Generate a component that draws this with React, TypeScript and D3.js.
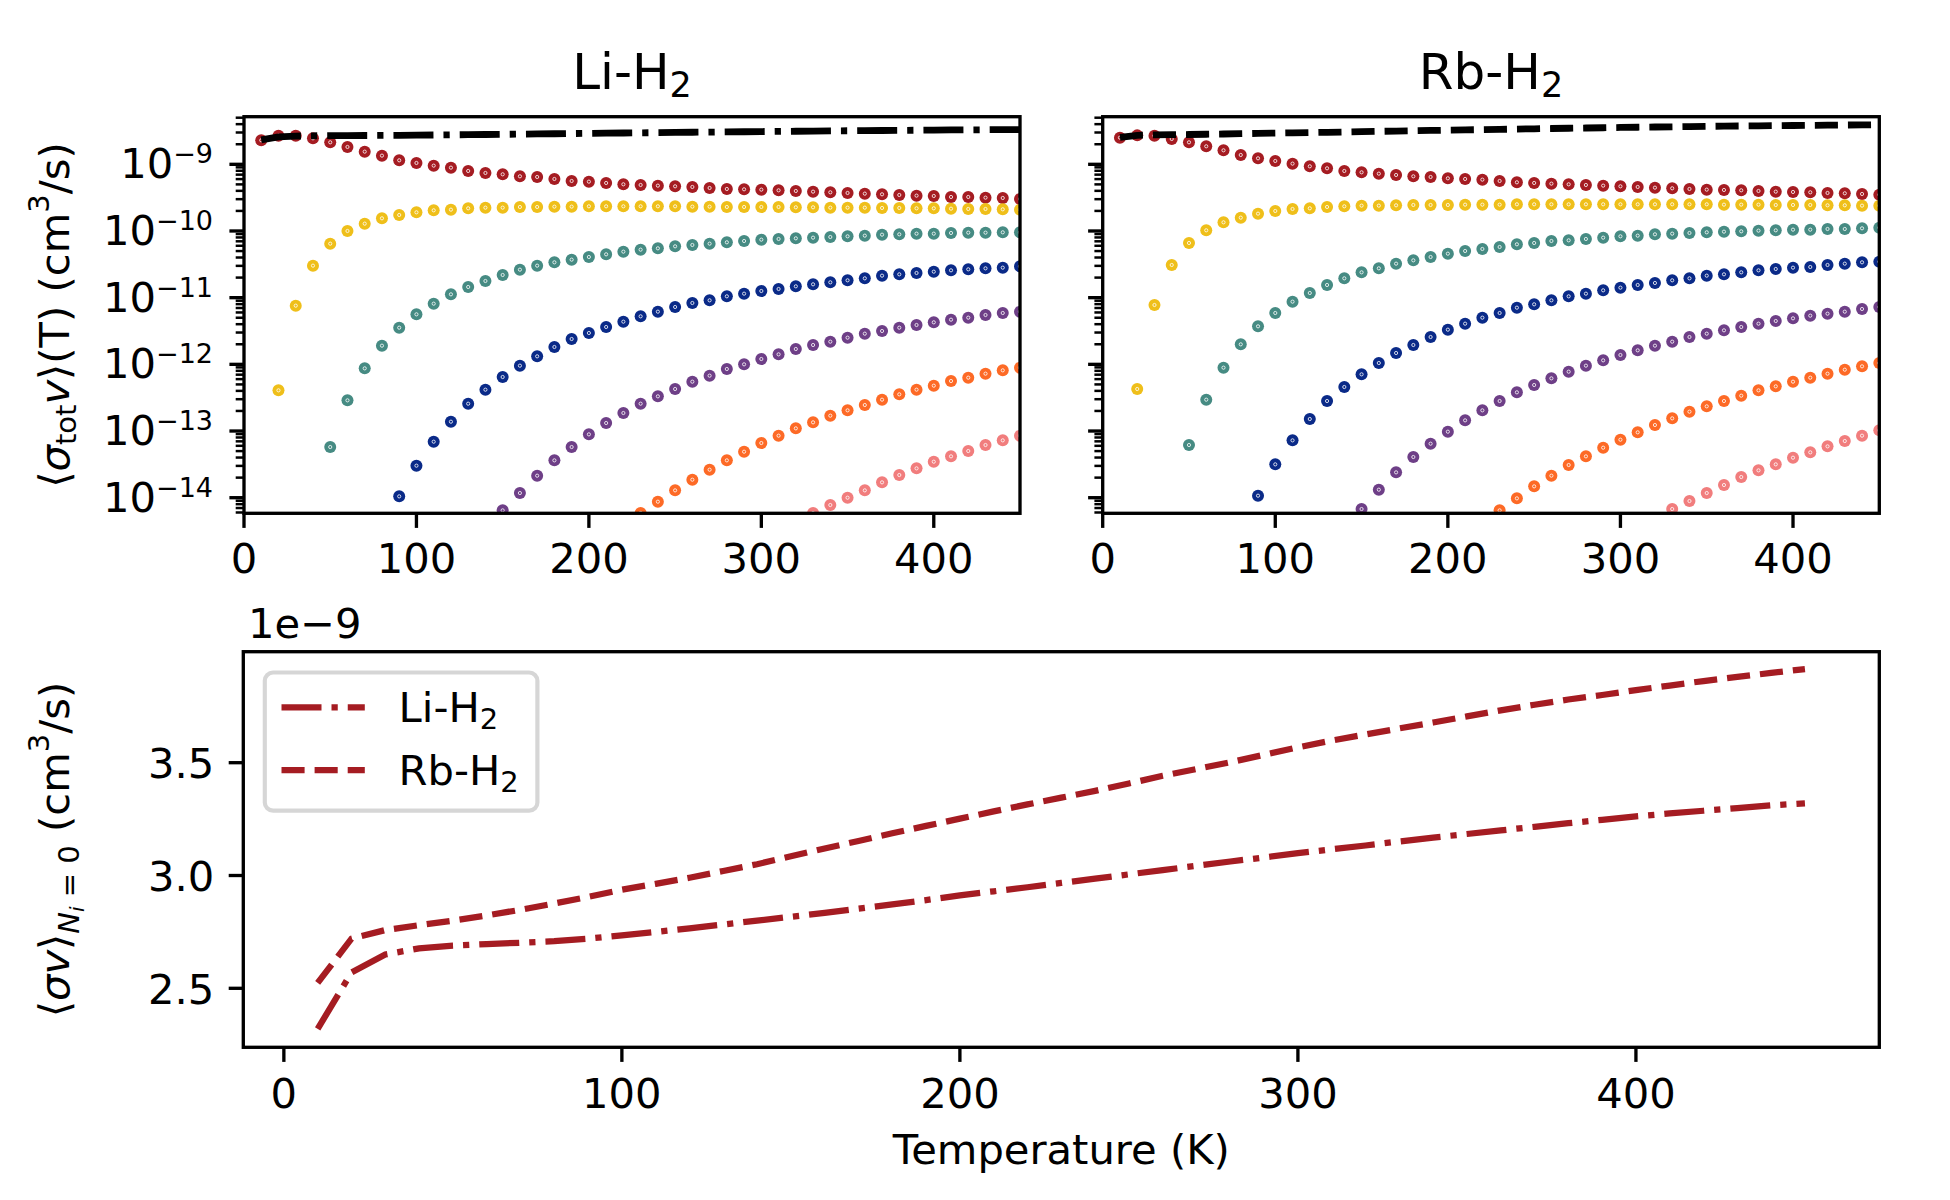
import * as d3 from "d3";

// sample temperatures (K)
const temperatures = [
  10, 20, 30, 40, 50, 60, 70, 80, 90, 100, 110, 120, 130, 140, 150, 160, 170, 180, 190, 200, 210, 220, 230,
  240, 250, 260, 270, 280, 290, 300, 310, 320, 330, 340, 350, 360, 370, 380, 390, 400, 410, 420, 430, 440, 450,
];

// log10 of <sigma v> per channel (null = below the axis)
const liCh0 = [-8.64, -8.57, -8.57, -8.61, -8.67, -8.74, -8.81, -8.87, -8.94, -8.98, -9.02, -9.05, -9.1, -9.13, -9.15, -9.18, -9.19, -9.22, -9.25, -9.26, -9.28, -9.3, -9.31, -9.32, -9.33, -9.34, -9.355, -9.37, -9.375, -9.38, -9.39, -9.4, -9.41, -9.42, -9.43, -9.44, -9.45, -9.46, -9.47, -9.475, -9.49, -9.49, -9.5, -9.505, -9.52];
const liCh1 = [null, -12.39, -11.12, -10.52, -10.19, -10.0, -9.89, -9.81, -9.76, -9.72, -9.69, -9.68, -9.66, -9.65, -9.65, -9.64, -9.64, -9.635, -9.635, -9.63, -9.63, -9.63, -9.63, -9.63, -9.63, -9.635, -9.635, -9.64, -9.64, -9.64, -9.64, -9.645, -9.645, -9.65, -9.65, -9.65, -9.655, -9.655, -9.66, -9.66, -9.665, -9.67, -9.67, -9.675, -9.68];
const liCh2 = [null, null, null, null, -13.24, -12.54, -12.06, -11.72, -11.45, -11.25, -11.09, -10.95, -10.84, -10.75, -10.66, -10.58, -10.52, -10.47, -10.43, -10.39, -10.35, -10.31, -10.28, -10.26, -10.23, -10.21, -10.19, -10.17, -10.15, -10.13, -10.12, -10.11, -10.1, -10.09, -10.08, -10.07, -10.055, -10.05, -10.04, -10.04, -10.03, -10.025, -10.025, -10.02, -10.02];
const liCh3 = [null, null, null, null, null, null, null, null, -13.98, -13.52, -13.16, -12.86, -12.59, -12.38, -12.19, -12.02, -11.88, -11.74, -11.62, -11.53, -11.44, -11.36, -11.28, -11.21, -11.14, -11.08, -11.04, -10.98, -10.94, -10.9, -10.87, -10.83, -10.8, -10.77, -10.74, -10.71, -10.67, -10.65, -10.63, -10.61, -10.59, -10.575, -10.56, -10.55, -10.53];
const liCh4 = [null, null, null, null, null, null, null, null, null, null, null, null, null, null, -14.19, -13.93, -13.67, -13.44, -13.24, -13.05, -12.88, -12.73, -12.59, -12.48, -12.37, -12.26, -12.17, -12.07, -12.0, -11.92, -11.85, -11.77, -11.71, -11.66, -11.6, -11.54, -11.5, -11.45, -11.41, -11.37, -11.33, -11.3, -11.26, -11.23, -11.21];
const liCh5 = [null, null, null, null, null, null, null, null, null, null, null, null, null, null, null, null, null, null, null, null, null, null, -14.23, -14.06, -13.89, -13.73, -13.58, -13.44, -13.31, -13.18, -13.07, -12.96, -12.87, -12.77, -12.69, -12.61, -12.53, -12.45, -12.38, -12.32, -12.25, -12.2, -12.14, -12.09, -12.05];
const liCh6 = [null, null, null, null, null, null, null, null, null, null, null, null, null, null, null, null, null, null, null, null, null, null, null, null, null, null, null, null, null, null, null, null, -14.23, -14.11, -14.0, -13.89, -13.77, -13.66, -13.56, -13.46, -13.38, -13.3, -13.21, -13.14, -13.07];

const rbCh0 = [-8.6, -8.566, -8.57, -8.62, -8.67, -8.73, -8.79, -8.86, -8.91, -8.95, -8.99, -9.03, -9.06, -9.1, -9.12, -9.14, -9.16, -9.18, -9.19, -9.21, -9.22, -9.23, -9.25, -9.27, -9.28, -9.29, -9.3, -9.31, -9.32, -9.33, -9.34, -9.35, -9.36, -9.37, -9.38, -9.385, -9.39, -9.4, -9.41, -9.415, -9.42, -9.43, -9.435, -9.445, -9.455];
const rbCh1 = [null, -12.37, -11.11, -10.51, -10.18, -9.99, -9.87, -9.8, -9.74, -9.7, -9.67, -9.66, -9.64, -9.63, -9.62, -9.62, -9.615, -9.61, -9.61, -9.61, -9.605, -9.605, -9.605, -9.6, -9.6, -9.6, -9.6, -9.6, -9.6, -9.6, -9.6, -9.6, -9.6, -9.6, -9.6, -9.605, -9.605, -9.605, -9.61, -9.61, -9.61, -9.615, -9.615, -9.62, -9.62];
const rbCh2 = [null, null, null, null, -13.21, -12.53, -12.05, -11.7, -11.43, -11.23, -11.06, -10.93, -10.81, -10.71, -10.62, -10.56, -10.49, -10.44, -10.39, -10.34, -10.3, -10.27, -10.24, -10.2, -10.18, -10.15, -10.14, -10.12, -10.1, -10.08, -10.07, -10.05, -10.04, -10.03, -10.02, -10.01, -10.005, -9.995, -9.99, -9.98, -9.98, -9.97, -9.97, -9.96, -9.95];
const rbCh3 = [null, null, null, null, null, null, null, null, -13.97, -13.5, -13.14, -12.82, -12.55, -12.34, -12.15, -11.98, -11.83, -11.71, -11.59, -11.48, -11.39, -11.3, -11.23, -11.15, -11.1, -11.04, -10.98, -10.94, -10.89, -10.85, -10.81, -10.78, -10.74, -10.71, -10.67, -10.65, -10.62, -10.59, -10.57, -10.55, -10.54, -10.51, -10.49, -10.47, -10.46];
const rbCh4 = [null, null, null, null, null, null, null, null, null, null, null, null, null, null, -14.17, -13.88, -13.62, -13.39, -13.19, -13.01, -12.84, -12.69, -12.55, -12.42, -12.31, -12.21, -12.11, -12.02, -11.94, -11.86, -11.79, -11.72, -11.66, -11.59, -11.54, -11.49, -11.44, -11.39, -11.35, -11.31, -11.27, -11.24, -11.21, -11.17, -11.14];
const rbCh5 = [null, null, null, null, null, null, null, null, null, null, null, null, null, null, null, null, null, null, null, null, null, null, -14.19, -14.01, -13.83, -13.67, -13.51, -13.38, -13.25, -13.13, -13.02, -12.91, -12.81, -12.71, -12.63, -12.55, -12.47, -12.39, -12.33, -12.26, -12.2, -12.14, -12.08, -12.03, -11.98];
const rbCh6 = [null, null, null, null, null, null, null, null, null, null, null, null, null, null, null, null, null, null, null, null, null, null, null, null, null, null, null, null, null, null, null, null, -14.17, -14.05, -13.93, -13.81, -13.69, -13.59, -13.5, -13.4, -13.32, -13.23, -13.15, -13.07, -12.99];

// total rate for N_i = 0, in units of 1e-9 cm^3/s
const liTotal = [2.32, 2.57, 2.65, 2.677, 2.689, 2.696, 2.702, 2.709, 2.72, 2.735, 2.75, 2.766, 2.783, 2.8, 2.817, 2.834, 2.853, 2.872, 2.891, 2.912, 2.93, 2.948, 2.967, 2.986, 3.005, 3.024, 3.043, 3.062, 3.08, 3.099, 3.116, 3.133, 3.151, 3.168, 3.184, 3.2, 3.216, 3.232, 3.247, 3.262, 3.275, 3.287, 3.299, 3.311, 3.32];
const rbTotal = [2.524, 2.72, 2.758, 2.78, 2.8, 2.823, 2.848, 2.876, 2.905, 2.937, 2.963, 2.99, 3.02, 3.05, 3.085, 3.12, 3.153, 3.187, 3.22, 3.252, 3.284, 3.315, 3.345, 3.375, 3.408, 3.442, 3.472, 3.502, 3.535, 3.568, 3.598, 3.625, 3.652, 3.678, 3.705, 3.732, 3.757, 3.78, 3.8, 3.822, 3.842, 3.862, 3.88, 3.898, 3.915];

const channelColors = ["#a51c22", "#efbf1a", "#468b83", "#0a2a88", "#6e3f87", "#fd6a26", "#f17d7d"];
const liChannels = [liCh0, liCh1, liCh2, liCh3, liCh4, liCh5, liCh6];
const rbChannels = [rbCh0, rbCh1, rbCh2, rbCh3, rbCh4, rbCh5, rbCh6];

const xTicks = [0, 100, 200, 300, 400];
const logMajor = [-14, -13, -12, -11, -10, -9];
const bottomYTicks = [2.5, 3.0, 3.5];

const FONT = "'DejaVu Sans', sans-serif";
const FS = 41.67;
const LW = 6.25;
const SPINE = 3.33;
const DASHED = "23.1 10";
const DASHDOT = "40 10 6.25 10";
const LINE_RED = "#a51c22";

type PanelProps = {
  id: string;
  left: number;
  right: number;
  name: string;
  channels: (number | null)[][];
  total: number[];
  dash: string;
  showLabels: boolean;
};

function LogPanel({ id, left, right, name, channels, total, dash, showLabels }: PanelProps) {
  const top = 116.7;
  const bottom = 513.3;
  const x = d3.scaleLinear().domain([0, 450]).range([left, right]);
  const y = d3.scaleLog().domain([10 ** -14.234, 10 ** -8.286]).range([bottom, top]);
  const [lo, hi] = y.domain();
  const minors: number[] = [];
  for (let e = -15; e <= -9; e++) {
    for (let k = 2; k <= 9; k++) {
      const v = k * 10 ** e;
      if (v >= lo && v <= hi) minors.push(v);
    }
  }
  const line = d3
    .line<number>()
    .x((_, i) => x(temperatures[i]))
    .y((d) => y(d * 1e-9));

  return (
    <g>
      <defs>
        <clipPath id={id}>
          <rect x={left} y={top} width={right - left} height={bottom - top} />
        </clipPath>
      </defs>
      <g clipPath={`url(#${id})`}>
        {channels.map((vals, si) =>
          vals.map((v, i) =>
            v === null ? null : (
              <g key={`${si}-${i}`}>
                <circle cx={x(temperatures[i])} cy={y(10 ** v)} r={6} fill={channelColors[si]} />
                <circle cx={x(temperatures[i])} cy={y(10 ** v)} r={1.6} fill="none" stroke="#fff" strokeWidth={0.8} />
              </g>
            )
          )
        )}
        <path d={line(total) ?? ""} fill="none" stroke="#000" strokeWidth={6.8} strokeDasharray={dash} />
      </g>
      <rect x={left} y={top} width={right - left} height={bottom - top} fill="none" stroke="#000" strokeWidth={SPINE} />
      {xTicks.map((t) => (
        <g key={t}>
          <line x1={x(t)} x2={x(t)} y1={bottom} y2={bottom + 14.6} stroke="#000" strokeWidth={SPINE} />
          <text x={x(t)} y={bottom + 60} textAnchor="middle" fontSize={FS}>
            {t}
          </text>
        </g>
      ))}
      {minors.map((v) => (
        <line key={v} x1={left - 8.3} x2={left} y1={y(v)} y2={y(v)} stroke="#000" strokeWidth={2.5} />
      ))}
      {logMajor.map((e) => (
        <g key={e}>
          <line x1={left - 14.6} x2={left} y1={y(10 ** e)} y2={y(10 ** e)} stroke="#000" strokeWidth={SPINE} />
          {showLabels && (
            <text x={left - 31} y={y(10 ** e) + 14} textAnchor="end" fontSize={FS}>
              10
              <tspan dy={-15} fontSize={27}>
                {"\u2212" + Math.abs(e)}
              </tspan>
            </text>
          )}
        </g>
      ))}
      <text x={(left + right) / 2} y={89} textAnchor="middle" fontSize={50}>
        {name}
        <tspan dy={8} fontSize={35}>
          2
        </tspan>
      </text>
    </g>
  );
}

function TotalPanel() {
  const left = 243.3;
  const right = 1879.3;
  const top = 651.7;
  const bottom = 1047.3;
  const x = d3.scaleLinear().domain([-12, 472]).range([left, right]);
  const y = d3.scaleLinear().domain([2.2385, 3.992]).range([bottom, top]);
  const line = d3
    .line<number>()
    .x((_, i) => x(temperatures[i]))
    .y((d) => y(d));

  const legendItems = [
    { label: "Li-H", dash: DASHDOT },
    { label: "Rb-H", dash: DASHED },
  ];

  return (
    <g>
      <defs>
        <clipPath id="clip-bottom">
          <rect x={left} y={top} width={right - left} height={bottom - top} />
        </clipPath>
      </defs>
      <g clipPath="url(#clip-bottom)">
        <path d={line(liTotal) ?? ""} fill="none" stroke={LINE_RED} strokeWidth={LW} strokeDasharray={DASHDOT} />
        <path d={line(rbTotal) ?? ""} fill="none" stroke={LINE_RED} strokeWidth={LW} strokeDasharray={DASHED} />
      </g>
      <rect x={left} y={top} width={right - left} height={bottom - top} fill="none" stroke="#000" strokeWidth={SPINE} />
      {xTicks.map((t) => (
        <g key={t}>
          <line x1={x(t)} x2={x(t)} y1={bottom} y2={bottom + 14.6} stroke="#000" strokeWidth={SPINE} />
          <text x={x(t)} y={bottom + 61} textAnchor="middle" fontSize={FS}>
            {t}
          </text>
        </g>
      ))}
      {bottomYTicks.map((v) => (
        <g key={v}>
          <line x1={left - 14.6} x2={left} y1={y(v)} y2={y(v)} stroke="#000" strokeWidth={SPINE} />
          <text x={left - 29} y={y(v) + 15.5} textAnchor="end" fontSize={FS}>
            {d3.format(".1f")(v)}
          </text>
        </g>
      ))}
      <text x={248} y={638} fontSize={FS}>
        1e{"\u2212"}9
      </text>
      <text x={(left + right) / 2} y={1164} textAnchor="middle" fontSize={FS}>
        Temperature (K)
      </text>
      <text transform="translate(69,849.5) rotate(-90)" textAnchor="middle" fontSize={FS}>
        {"\u27e8"}
        <tspan fontStyle="italic">{"\u03c3v"}</tspan>
        {"\u27e9"}
        <tspan fontSize={29} dy={10} fontStyle="italic">
          N
        </tspan>
        <tspan fontSize={20} dy={5} fontStyle="italic">
          i
        </tspan>
        <tspan fontSize={29} dy={-5}>
          {" = 0"}
        </tspan>
        <tspan dy={-10}>{" (cm"}</tspan>
        <tspan fontSize={29} dy={-20}>
          3
        </tspan>
        <tspan dy={20}>{"/s)"}</tspan>
      </text>
      <g>
        <rect
          x={264.8}
          y={672.5}
          width={272.6}
          height={138.2}
          rx={8.3}
          fill="#fff"
          fillOpacity={0.8}
          stroke="#cccccc"
          strokeOpacity={0.8}
          strokeWidth={4.17}
        />
        {legendItems.map((item, i) => {
          const ly = 707.3 + i * 62.7;
          return (
            <g key={item.label}>
              <line x1={281.5} x2={364.8} y1={ly} y2={ly} stroke={LINE_RED} strokeWidth={LW} strokeDasharray={item.dash} />
              <text x={398.6} y={ly + 14.5} fontSize={FS}>
                {item.label}
                <tspan dy={7} fontSize={29}>
                  2
                </tspan>
              </text>
            </g>
          );
        })}
      </g>
    </g>
  );
}

export default function App() {
  return (
    <svg
      width={1950}
      height={1200}
      viewBox="0 0 1950 1200"
      style={{ position: "absolute", left: 0, top: 0, background: "#fff" }}
      fontFamily={FONT}
    >
      <rect width={1950} height={1200} fill="#fff" />
      <LogPanel id="clip-li" left={244} right={1020} name="Li-H" channels={liChannels} total={liTotal} dash={DASHDOT} showLabels />
      <LogPanel id="clip-rb" left={1102.7} right={1879.3} name="Rb-H" channels={rbChannels} total={rbTotal} dash={DASHED} showLabels={false} />
      <text transform="translate(69,315) rotate(-90)" textAnchor="middle" fontSize={FS}>
        {"\u27e8"}
        <tspan fontStyle="italic">{"\u03c3"}</tspan>
        <tspan fontSize={29} dy={7}>
          tot
        </tspan>
        <tspan fontStyle="italic" dy={-7}>
          v
        </tspan>
        {"\u27e9(T) (cm"}
        <tspan fontSize={29} dy={-20}>
          3
        </tspan>
        <tspan dy={20}>{"/s)"}</tspan>
      </text>
      <TotalPanel />
    </svg>
  );
}
